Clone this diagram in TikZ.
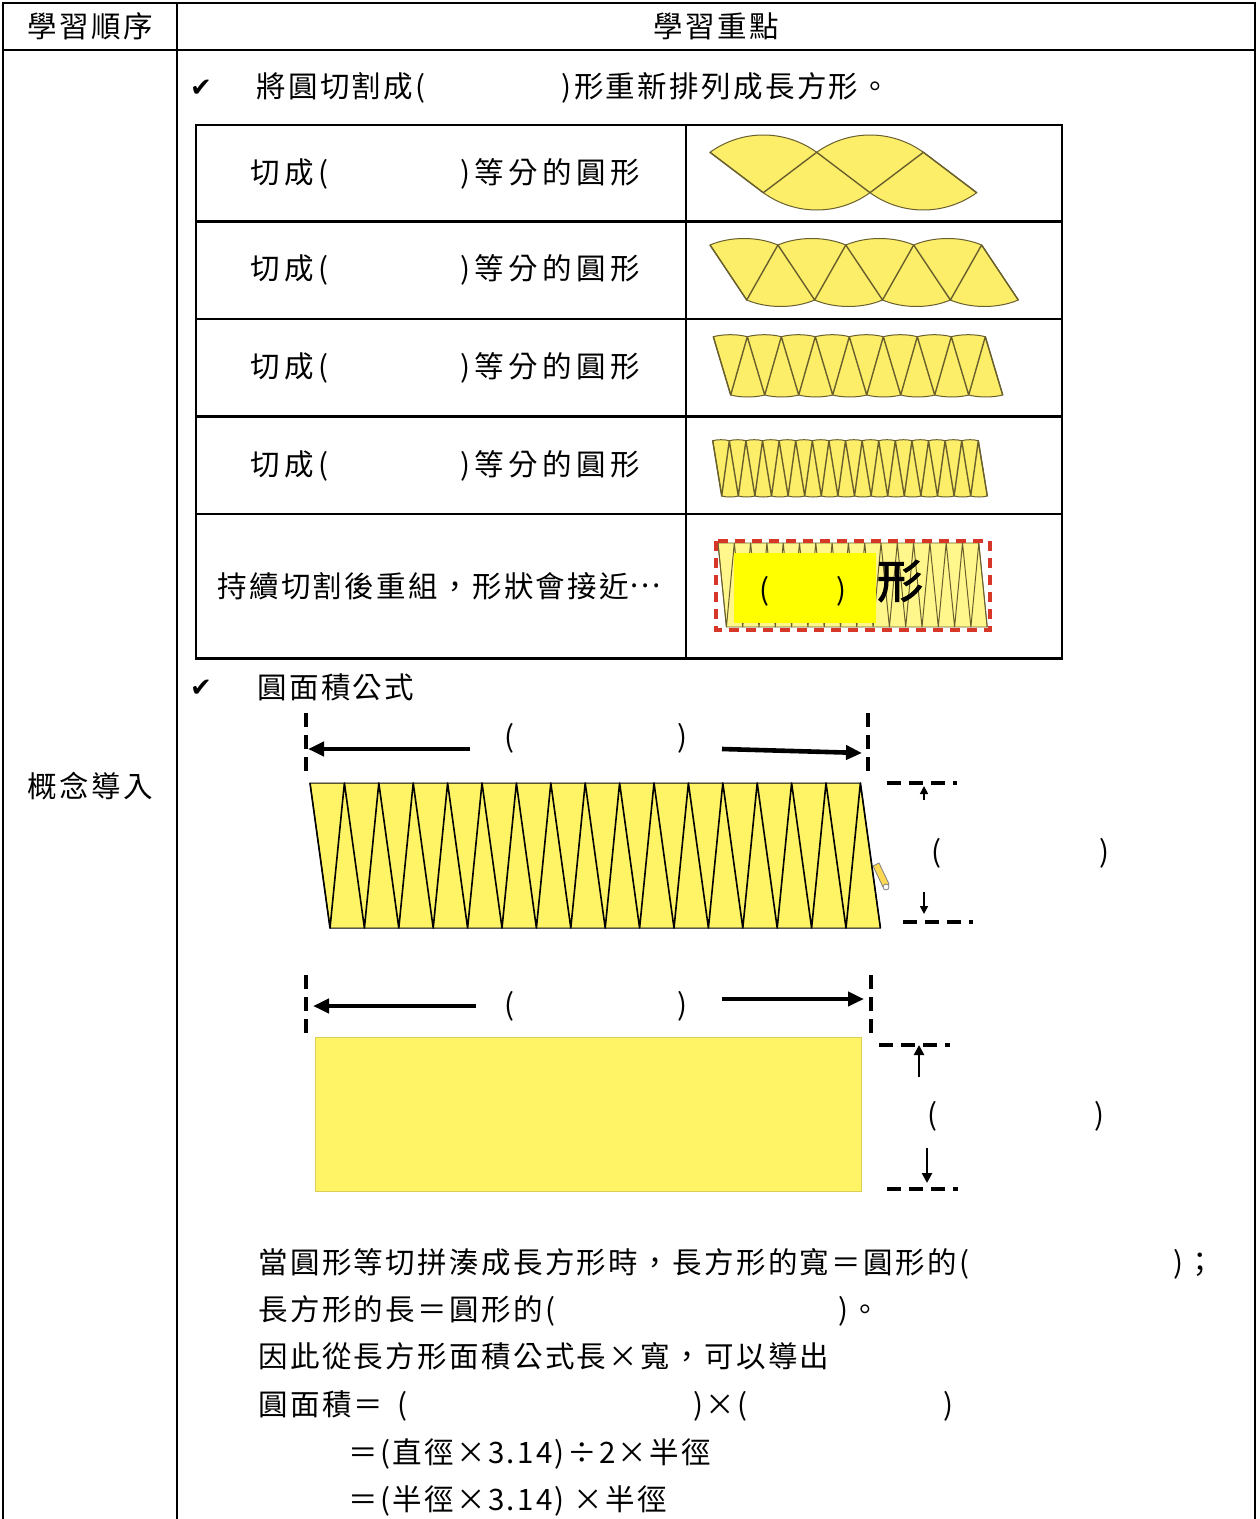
\documentclass[tikz,border=0pt]{standalone}
\usepackage{fontspec}
\setmainfont{Noto Sans CJK TC}[LetterSpace=8]
\newfontfamily\rowfont{Noto Sans CJK TC}[LetterSpace=15]
\newfontfamily\symfont{DejaVu Sans}
\newfontfamily\heavyfont[FakeBold=2]{Noto Sans CJK TC}
\usetikzlibrary{arrows.meta}

\definecolor{sectoryellow}{RGB}{253,238,105}
\definecolor{sectoredge}{RGB}{105,95,45}
\definecolor{rectyellow}{RGB}{255,243,102}
\definecolor{boxyellow}{RGB}{255,255,0}
\definecolor{paleyellow}{RGB}{255,246,140}
\definecolor{cutred}{RGB}{215,55,40}

\newcommand{\txtsize}{\fontsize{14.75pt}{17pt}\selectfont}

% row of circle sectors: x0, top y, bottom y, step, shift, count, bulge
\newcommand{\sectorrow}[7]{%
  \filldraw[sectorfill] (#1,#2) -- (#1+#5,#3)
    \foreach \i in {1,...,#6} {
      .. controls +(0.3*#4,1.333*#7) and +(-0.3*#4,1.333*#7) .. (#1+#5+\i*#4,#3)
    }
    -- (#1+#6*#4,#2)
    \foreach \i in {1,...,#6} {
      .. controls +(-0.3*#4,-1.333*#7) and +(0.3*#4,-1.333*#7) .. (#1+#6*#4-\i*#4,#2)
    } -- cycle;
  \draw[sectorline] (#1,#2)
    \foreach \i in {1,...,#6} { -- (#1+#5+\i*#4-#4,#3) -- (#1+\i*#4,#2) }
    -- (#1+#5+#6*#4,#3);
}

\begin{document}
\begin{tikzpicture}[x=0.5pt,y=-0.5pt,
  txt/.style={anchor=west,inner sep=0pt,text height=1em,text depth=0em,font=\txtsize},
  ctxt/.style={txt,anchor=center},
  rowtxt/.style={txt,font=\rowfont\txtsize},
  checkmark/.style={anchor=center,inner sep=0pt,font=\symfont\fontsize{13pt}{15pt}\selectfont},
  tableline/.style={line width=1pt},
  cellline/.style={line width=1.3pt},
  sectorfill/.style={fill=sectoryellow,draw=sectoredge,line width=0.5pt},
  sectorline/.style={draw=sectoredge,line width=0.7pt,line join=round},
  dimtick/.style={line width=1.6pt,dash pattern=on 7pt off 4pt},
  dimarrow/.style={line width=2.3pt,-{Triangle[length=8pt,width=7pt]}},
  tinyarrow/.style={line width=0.8pt,-{Triangle[length=4pt,width=4pt]}},
  sidearrow/.style={line width=1.3pt,-{Triangle[length=5pt,width=5pt]}},
]
\fill[white] (0,0) rectangle (1259,1519);
\useasboundingbox (0,0) rectangle (1259,1519);

% Outer table
\draw[tableline] (3,1519) -- (3,3) -- (1255,3) -- (1255,1519);
\draw[tableline] (3,50) -- (1255,50);
\draw[tableline] (177,3) -- (177,1519);

\node[ctxt] (orderhead) at (90,28) {學習順序};
\node[ctxt] (focushead) at (716,28) {學習重點};
\node[ctxt] (stage) at (90,787) {概念導入};

% First point
\node[checkmark] (tickA) at (201,88) {✔};
\node[txt] (cutline) at (256,88) {將圓切割成(\hspace{68pt})形重新排列成長方形。};

% Inner table
\draw[cellline] (196,125) rectangle (1062,658.5);
\foreach \y in {221.5,319,416.5,514}
  \draw[cellline] (196,\y) -- (1062,\y);
\draw[cellline] (686,125) -- (686,658.5);

\foreach \y/\nm in {173.5/cutA,270/cutB,367.5/cutC,465/cutD}
  \node[rowtxt] (\nm) at (250,\y) {切成(\hspace{66pt})等分的圓形};
\node[txt] (cutmore) at (217,587) {持續切割後重組，形狀會接近\raisebox{0.33em}{…}};

% Rearranged sectors
\sectorrow{710}{152.3}{192.7}{106.7}{53.3}{2}{17.3}
\sectorrow{710}{245}{300}{67.9}{36.7}{4}{6.5}
\sectorrow{713.3}{336.7}{395}{34}{17.4}{8}{2}
\sectorrow{712.7}{440.7}{496}{16.6}{9}{16}{1}
\begin{scope}[sectorfill/.style={fill=paleyellow,draw=sectoredge,line width=0.4pt},
              sectorline/.style={draw=sectoredge,line width=0.5pt}]
  \sectorrow{718}{543}{627}{16.3}{8.4}{16}{0}
\end{scope}
\fill[boxyellow] (734,553) rectangle (876,623);
\draw[cutred,line width=1.6pt,dash pattern=on 5pt off 3.5pt] (716,541) rectangle (990,630);
\node[ctxt] (boxlabel) at (803,590) {(\hspace{33.5pt})};
\node[ctxt,font=\heavyfont\fontsize{23pt}{26pt}\selectfont] (shapeword) at (900,588) {形};

% Second point
\node[checkmark] (tickB) at (201,688) {✔};
\node[txt] (formula) at (257,688) {圓面積公式};

% Parallelogram from sectors
\begin{scope}[sectorfill/.style={fill=rectyellow,draw=black,line width=0.5pt},
              sectorline/.style={draw=black,line width=0.8pt,line join=round}]
  \sectorrow{310}{783}{928}{34.4}{20}{16}{0}
\end{scope}
\filldraw[fill=sectoryellow!80!orange,draw=gray,line width=0.4pt] (873,866) -- (879,863) -- (889,884) -- (883,887) -- cycle;
\filldraw[fill=white,draw=gray,line width=0.4pt] (886,887) circle (3);

% Length above the parallelogram
\draw[dimtick] (306,713) -- (306,775);
\draw[dimtick] (868,713) -- (868,775);
\coordinate (lenAl) at (470,749);
\coordinate (lenAlend) at (308,749);
\coordinate (lenAr) at (722,749);
\coordinate (lenArend) at (862,753);
\draw[dimarrow] (lenAl) -- (lenAlend);
\draw[dimarrow] (lenAr) -- (lenArend);
\node[ctxt] (lenA) at (596,737) {(\hspace{81.5pt})};

% Height beside the parallelogram
\draw[dimtick] (887,783) -- (957,783);
\draw[dimtick] (903,922) -- (973,922);
\coordinate (widAt) at (924,800);
\coordinate (widAtend) at (924,786);
\coordinate (widAb) at (924,892);
\coordinate (widAbend) at (924,914);
\draw[tinyarrow] (widAt) -- (widAtend);
\draw[tinyarrow] (widAb) -- (widAbend);
\node[ctxt] (widA) at (1020,852) {(\hspace{79pt})};

% Rectangle
\filldraw[fill=rectyellow,draw=rectyellow!85!black,line width=0.4pt] (315,1037) rectangle (861,1191);
\draw[dimtick] (306,975) -- (306,1035);
\draw[dimtick] (871,975) -- (871,1035);
\coordinate (lenBl) at (476,1006);
\coordinate (lenBlend) at (313,1006);
\coordinate (lenBr) at (722,999);
\coordinate (lenBrend) at (864,999);
\draw[dimarrow] (lenBl) -- (lenBlend);
\draw[dimarrow] (lenBr) -- (lenBrend);
\node[ctxt] (lenB) at (596,1005) {(\hspace{81.5pt})};

\draw[dimtick] (879,1045) -- (950,1045);
\draw[dimtick] (887,1189) -- (958,1189);
\coordinate (widBt) at (919,1077);
\coordinate (widBtend) at (919,1045);
\coordinate (widBb) at (927,1148);
\coordinate (widBbend) at (927,1183);
\draw[sidearrow] (widBt) -- (widBtend);
\draw[sidearrow] (widBb) -- (widBbend);
\node[ctxt] (widB) at (1016,1115) {(\hspace{78.5pt})};

% Derivation
\node[txt] (sumA) at (258,1263) {當圓形等切拼湊成長方形時，長方形的寬＝圓形的(\hspace{102pt})；};
\node[txt] (sumB) at (258,1310) {長方形的長＝圓形的(\hspace{141.5pt})。};
\node[txt] (sumC) at (258,1357) {因此從長方形面積公式長×寬，可以導出};
\node[txt] (sumD) at (258,1405) {圓面積＝\hspace{7pt}(\hspace{143pt})×(\hspace{98pt})};
\node[txt] (sumE) at (348,1453) {＝(直徑×3.14)÷2×半徑};
\node[txt] (sumF) at (348,1500) {＝(半徑×3.14) ×半徑};
\end{tikzpicture}
\end{document}
